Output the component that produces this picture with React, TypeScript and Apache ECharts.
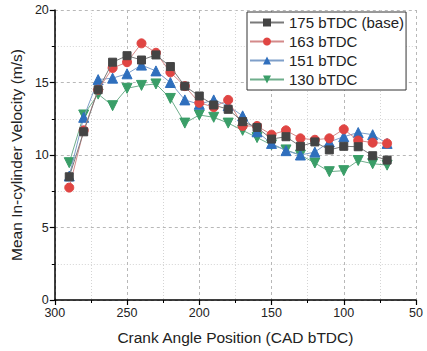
import React, { useEffect, useRef } from "react";
import * as echarts from "echarts";

const crankAngles = [290, 280, 270, 260, 250, 240, 230, 220, 210, 200, 190, 180, 170, 160, 150, 140, 130, 120, 110, 100, 90, 80, 70];
const base175 = [8.5, 11.6, 14.5, 16.4, 16.85, 16.55, 16.9, 16.1, 14.75, 14.07, 13.45, 13.15, 12.3, 11.9, 11.1, 11.26, 10.6, 10.9, 10.35, 10.6, 10.57, 9.95, 9.65];
const bt163 = [7.75, 11.7, 14.5, 16.0, 16.4, 17.7, 17.05, 15.7, 14.75, 13.6, 13.3, 13.8, 12.0, 12.0, 11.4, 11.7, 11.15, 11.05, 11.15, 11.77, 11.0, 10.85, 10.8];
const bt151 = [8.55, 12.6, 15.2, 15.3, 15.6, 16.2, 15.8, 15.0, 13.8, 13.5, 13.8, 13.4, 12.7, 11.6, 10.8, 10.3, 10.0, 10.2, 10.9, 11.26, 11.55, 11.4, 10.8];
const bt130 = [9.47, 12.76, 14.2, 13.4, 14.6, 14.8, 14.9, 13.9, 12.2, 12.76, 12.6, 12.2, 11.7, 11.2, 10.7, 10.35, 10.0, 9.45, 8.85, 8.92, 9.62, 9.4, 9.3];

const seriesNames = ["175 bTDC (base)", "163 bTDC", "151 bTDC", "130 bTDC"];
const markerColors = ["#444444", "#e04543", "#2f6fbd", "#3a9e68"];
const lineColors = ["#7a7a7a", "#d48a8a", "#7f9fc9", "#6fae8c"];
const symbols = ["rect", "circle", "triangle", "path://M0,0 L10,0 L5,9 Z"];
const xTicks = [300, 250, 200, 150, 100, 50];
const yTicks = [0, 5, 10, 15, 20];

export default function App() {
  const ref = useRef<HTMLDivElement>(null);
  useEffect(() => {
    if (!ref.current) return;
    const chart = echarts.init(ref.current, undefined, { renderer: "svg" });
    const allData = [base175, bt163, bt151, bt130];
    chart.setOption({
      animation: false,
      backgroundColor: "#ffffff",
      textStyle: { fontFamily: "Liberation Sans, Arial, sans-serif" },
      grid: { left: 48, right: 11, top: 10, bottom: 51, containLabel: false },
      legend: {
        orient: "vertical",
        left: 247,
        top: 12,
        itemWidth: 34,
        itemHeight: 10,
        itemGap: 4,
        padding: [3, 2, 3, 2],
        borderColor: "#333",
        borderWidth: 1,
        backgroundColor: "#fff",
        textStyle: { fontSize: 15, color: "#222", fontFamily: "Liberation Sans, Arial, sans-serif" },
        data: seriesNames,
      },
      xAxis: {
        type: "value",
        inverse: true,
        min: 50,
        max: 300,
        interval: 50,
        name: "Crank Angle Position (CAD bTDC)",
        nameLocation: "middle",
        nameGap: 29,
        nameTextStyle: { fontSize: 15.5, color: "#222" },
        axisLine: { show: true, onZero: false, lineStyle: { color: "#000", width: 1.5 } },
        axisTick: { show: true, inside: false, length: 5, lineStyle: { color: "#000", width: 1.2 } },
        minorTick: { show: true, splitNumber: 2, length: 3, lineStyle: { color: "#000" } },
        axisLabel: { fontSize: 12.5, color: "#222", margin: 6, customValues: xTicks },
        splitLine: { show: true, lineStyle: { color: "#b8b8b8", type: [3, 3], width: 1 } },
        minorSplitLine: { show: true, lineStyle: { color: "#d4d4d4", type: [1, 2], width: 1 } },
      },
      yAxis: {
        type: "value",
        min: 0,
        max: 20,
        interval: 5,
        name: "Mean In-cylinder Velocity (m/s)",
        nameLocation: "middle",
        nameGap: 24,
        nameTextStyle: { fontSize: 15.5, color: "#222" },
        axisLine: { show: true, onZero: false, lineStyle: { color: "#000", width: 1.5 } },
        axisTick: { show: true, inside: false, length: 5, lineStyle: { color: "#000", width: 1.2 } },
        minorTick: { show: true, splitNumber: 2, length: 3, lineStyle: { color: "#000" } },
        axisLabel: { fontSize: 12.5, color: "#222", margin: 6, customValues: yTicks },
        splitLine: { show: true, lineStyle: { color: "#b8b8b8", type: [3, 3], width: 1 } },
        minorSplitLine: { show: true, lineStyle: { color: "#d4d4d4", type: [1, 2], width: 1 } },
      },
      series: seriesNames.map((name, i) => ({
        name,
        type: "line",
        data: crankAngles.map((x, j) => [x, allData[i][j]]),
        symbol: symbols[i],
        symbolSize: i === 0 ? 8 : i === 1 ? 9 : 10,
        showAllSymbol: true,
        z: 2 + (3 - i),
        lineStyle: { color: lineColors[i], width: 1 },
        itemStyle: { color: markerColors[i], borderColor: markerColors[i] },
      })),
    });
    return () => chart.dispose();
  }, []);
  return <div ref={ref} style={{ width: 427, height: 351, position: "absolute", left: 0, top: 0 }} />;
}
